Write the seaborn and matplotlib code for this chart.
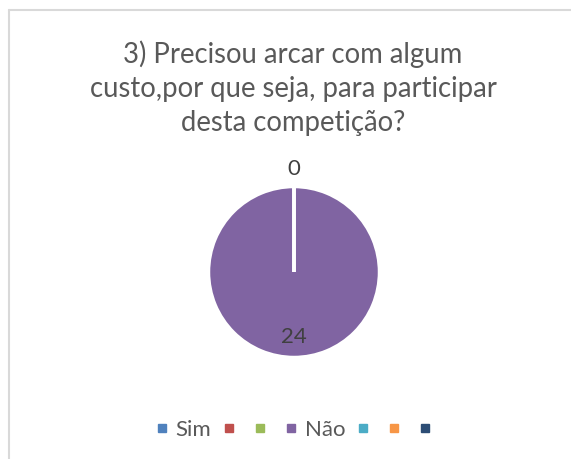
import matplotlib
import matplotlib.pyplot as plt
import numpy as np
import seaborn as sns
from matplotlib.lines import Line2D

matplotlib.use("Agg")

# dados do gráfico
categorias = ["Sim", "", "", "Não", "", "", ""]
valores = [0, 0, 0, 24, 0, 0, 0]
rotulos = ["0", None, None, "24", None, None, None]
cores = ["#4F81BD", "#C0504D", "#9BBB59", "#8064A2", "#4BACC6", "#F79646", "#2C4D75"]
titulo = "3) Precisou arcar com algum\ncusto,por que seja, para participar\ndesta competição?"

sns.set_theme(style="white")
plt.rcParams["font.family"] = ["Lato", "DejaVu Sans"]

W, H = 571, 459
fig = plt.figure(figsize=(W / 100, H / 100), dpi=100)
fig.patch.set_facecolor("white")

# borda (só topo e esquerda aparecem no recorte)
fig.add_artist(Line2D([9 / W, 1], [1 - 9.5 / H, 1 - 9.5 / H], transform=fig.transFigure,
                      color="#D9D9D9", lw=1.5))
fig.add_artist(Line2D([9 / W, 9 / W], [0, 1 - 9.5 / H], transform=fig.transFigure,
                      color="#D9D9D9", lw=1.5))

cx, cy, r = 294, 272, 85.5
ax = fig.add_axes([(cx - r) / W, (H - cy - r) / H, 2 * r / W, 2 * r / H])
wedges, _ = ax.pie(valores, colors=cores, startangle=90, counterclock=False,
                   wedgeprops={"edgecolor": "white", "linewidth": 2.5})
ax.set_xlim(-1, 1)
ax.set_ylim(-1, 1)
ax.set_aspect("equal")

for w, lab, v in zip(wedges, rotulos, valores):
    if lab is None:
        continue
    ang = np.deg2rad((w.theta1 + w.theta2) / 2)
    dist = 1.2 if v == 0 else 0.76
    ax.text(dist * np.cos(ang), dist * np.sin(ang), lab, ha="center", va="center",
            fontsize=16, color="#404040")

fig.text(293 / W, 1 - 88 / H, titulo, ha="center", va="center", fontsize=19.8,
         color="#595959", linespacing=1.38)

handles = [Line2D([], [], marker="s", linestyle="none", markersize=6, color=c) for c in cores]
fig.legend(handles, categorias, loc="center", bbox_to_anchor=(297 / W, 1 - 430 / H),
           ncol=7, frameon=False, fontsize=16, handlelength=0.6, handletextpad=0.3,
           columnspacing=0.5, labelcolor="#595959")

fig.savefig("out.png", dpi=100, facecolor="white")
